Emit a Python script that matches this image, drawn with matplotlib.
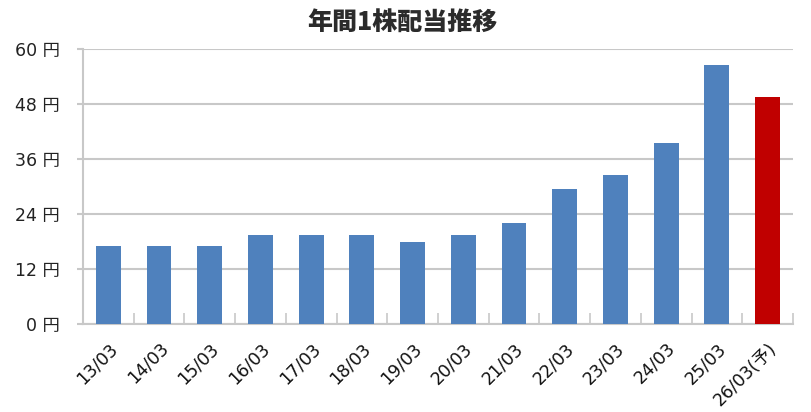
import matplotlib.pyplot as plt
import numpy as np

plt.rcParams['font.family'] = ['DejaVu Sans', 'Noto Sans CJK JP']

# data
years = ["13/03", "14/03", "15/03", "16/03", "17/03", "18/03", "19/03",
         "20/03", "21/03", "22/03", "23/03", "24/03", "25/03", "26/03(予)"]
dividends = [17, 17, 17, 19.5, 19.5, 19.5, 18, 19.5, 22, 29.5, 32.5, 39.5, 56.6, 49.5]
is_forecast = [False] * 13 + [True]
yticks = [0, 12, 24, 36, 48, 60]

blue = "#4F81BD"
red = "#C00000"
grid_col = "#C8C8C8"

fig = plt.figure(figsize=(8.11, 4.12), dpi=100)
ax = fig.add_axes([0.1023, 0.2136, 0.8755, 0.6674])

x = np.arange(len(years))
colors = [red if f else blue for f in is_forecast]
ax.bar(x, dividends, width=0.49, color=colors, zorder=3)

ax.set_xlim(-0.5, len(years) - 0.5)
ax.set_ylim(0, 60)
ax.set_yticks(yticks)
ax.set_yticklabels([f"{v} 円" for v in yticks], fontsize=12.5, color="#222222")
ax.yaxis.grid(True, color=grid_col, linewidth=1.5, zorder=0)

ax.set_xticks(x)
ax.set_xticklabels(years, rotation=45, ha="right", va="top",
                   rotation_mode="anchor", fontsize=12.5, color="#111111")
ax.set_xticks(np.arange(len(years) + 1) - 0.5, minor=True)
ax.tick_params(axis="x", which="major", length=0, pad=11)
ax.tick_params(axis="x", which="minor", direction="in", length=8,
               color=grid_col, width=1.2)
ax.tick_params(axis="y", length=4.5, color=grid_col, width=1.5, pad=12)

for side in ["top", "right"]:
    ax.spines[side].set_visible(False)
for side in ["left", "bottom"]:
    ax.spines[side].set_color(grid_col)
    ax.spines[side].set_linewidth(1.5)

fig.text(0.496, 0.947, "年間1株配当推移", ha="center", va="center",
         fontsize=18, fontweight="heavy", color="#2b2b2b",
         family=["Noto Sans CJK JP", "DejaVu Sans"])

fig.savefig("out.png", dpi=100)
